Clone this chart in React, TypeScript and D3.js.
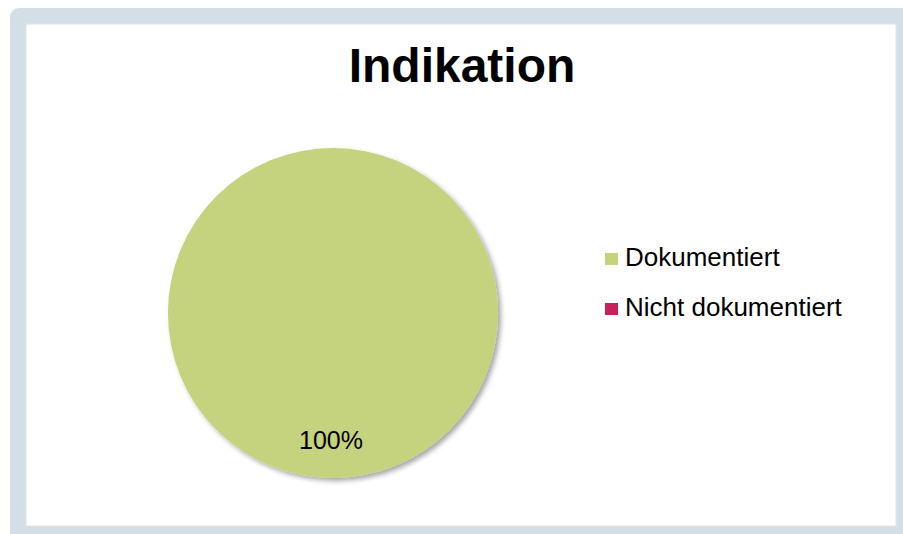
import React from "react";
import * as d3 from "d3";

const title = "Indikation";
const categories = ["Dokumentiert", "Nicht dokumentiert"];
const values = [100, 0];
const colors = ["#c5d37e", "#c8215a"];

export default function App() {
  const W = 903, H = 534;
  const cx = 333, cy = 313, r = 165;
  const total = d3.sum(values);
  const pie = d3.pie<number>().sort(null).value((d) => d)(values);
  const arc = d3.arc<d3.PieArcDatum<number>>().innerRadius(0).outerRadius(r);
  const labelArc = d3.arc<d3.PieArcDatum<number>>().innerRadius(127).outerRadius(127);
  const fmt = (v: number) => `${Math.round((v / total) * 100)}%`;
  return (
    <div style={{ position: "absolute", left: 0, top: 0 }}>
      <svg width={W} height={H} style={{ display: "block", fontFamily: "Arial, 'Liberation Sans', sans-serif" }}>
        <defs>
          <filter id="sh" x="-20%" y="-20%" width="140%" height="140%">
            <feDropShadow dx="3" dy="3" stdDeviation="2.5" floodColor="#000" floodOpacity="0.35" />
          </filter>
        </defs>
        <rect x={10} y={8} width={W} height={H} rx={9} fill="#d4dee6" />
        <rect x={26} y={24} width={870} height={502} fill="#ffffff" stroke="#e4e4e4" strokeWidth={1} />
        <text x={462} y={82} textAnchor="middle" fontSize={48} fontWeight="bold" fill="#000">{title}</text>
        <g transform={`translate(${cx},${cy})`}>
          {pie.map((d, i) =>
            d.value > 0 ? (
              <path key={i} d={arc(d) || ""} fill={colors[i]} filter="url(#sh)" />
            ) : null
          )}
          {pie.map((d, i) => {
            if (d.value <= 0) return null;
            const [lx, ly] = labelArc.centroid(d);
            return (
              <text key={"l" + i} x={lx - 2} y={ly + 9} textAnchor="middle" fontSize={25} fill="#000">
                {fmt(d.value)}
              </text>
            );
          })}
        </g>
        {categories.map((c, i) => (
          <g key={c} transform={`translate(605,${253 + i * 50})`}>
            <rect x={0} y={0} width={13} height={12} fill={colors[i]} />
            <text x={20} y={13} fontSize={26} fill="#000">{c}</text>
          </g>
        ))}
      </svg>
    </div>
  );
}
